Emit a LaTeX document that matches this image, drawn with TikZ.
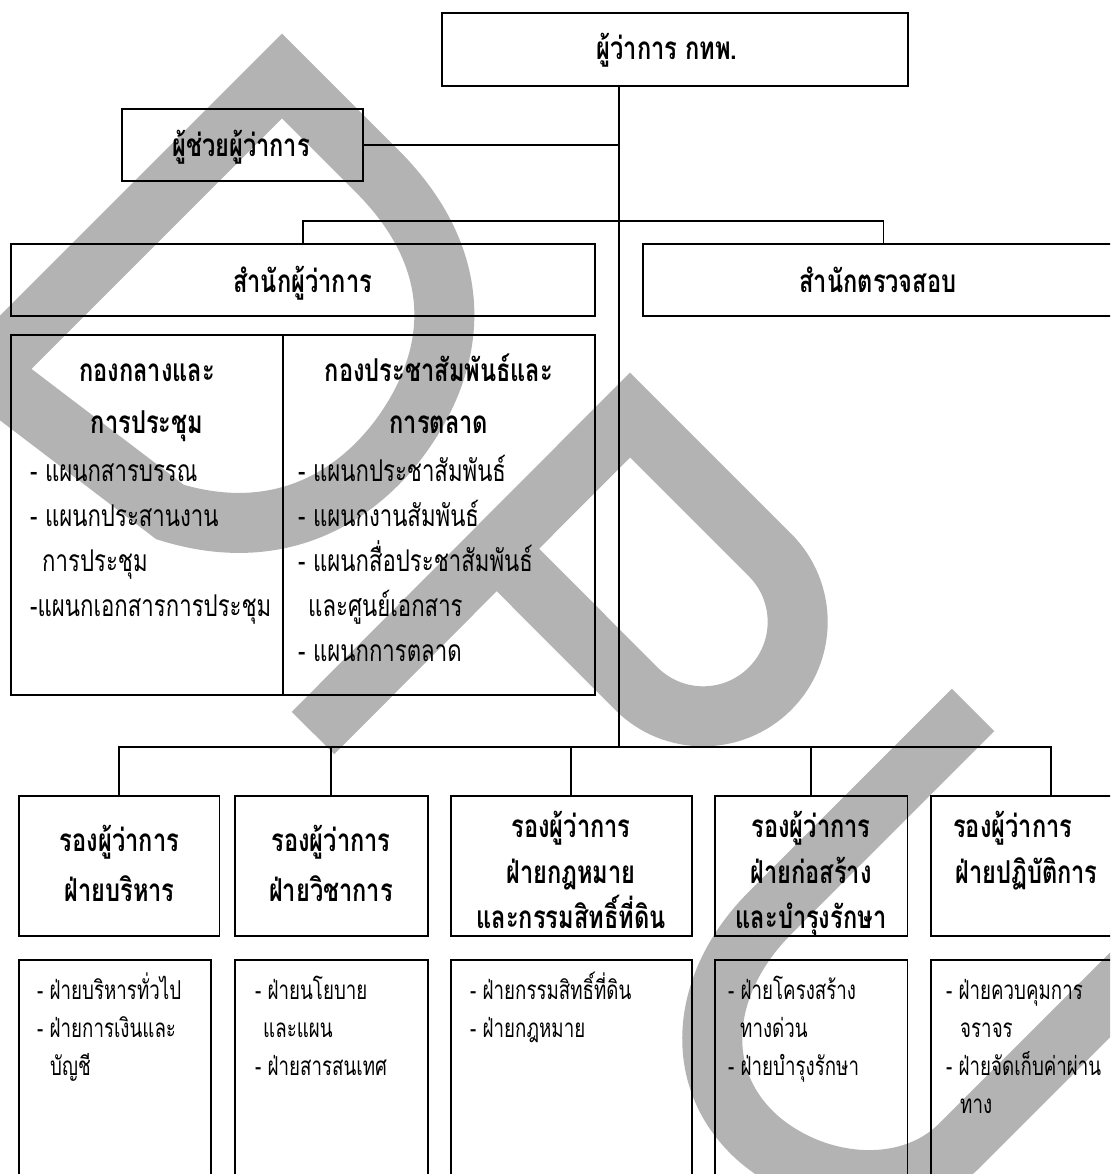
\documentclass[tikz,border=0pt]{standalone}
\usepackage{fontspec}
\newfontfamily\thaiH[Script=Thai,FakeStretch=0.75]{Loma}
\newfontfamily\thaiL[Script=Thai,FakeStretch=0.74]{Loma}
\newfontfamily\thaiS[Script=Thai,FakeStretch=0.72]{Loma}
\definecolor{wm}{RGB}{179,179,179}
\tikzset{
  box/.style={draw=black, line width=1.8pt, inner sep=0pt},
  ln/.style={draw=black, line width=1.8pt},
  hd/.style={anchor=base, inner sep=0pt, font=\thaiH\bfseries\fontsize{31.5}{31.5}\selectfont},
  hdl/.style={anchor=base west, inner sep=0pt, font=\thaiH\bfseries\fontsize{31.5}{31.5}\selectfont},
  li/.style={anchor=base west, inner sep=0pt, font=\thaiL\fontsize{30}{30}\selectfont},
  lis/.style={anchor=base west, inner sep=0pt, font=\thaiS\fontsize{26}{26}\selectfont},
  wmark/.style={draw=wm, line width=60pt, line join=miter, miter limit=10, line cap=butt}
}
\begin{document}
\begin{tikzpicture}[x=1pt,y=-1pt]
\useasboundingbox (0,0) rectangle (1110,1174);
\clip (0,0) rectangle (1110,1174);
\fill[white] (0,0) rectangle (1110,1174);
% watermark
\draw[wmark] (-14,372) -- (282,76) -- (377,171) .. controls (447,241) and (462,320) .. (424,398) .. controls (386,475) and (300,552) .. (170,512) -- cycle;
\draw[wmark] (313,733) -- (630,415) -- (770,555) arc[start angle=-45, end angle=135, radius=94.5] -- (496,548);
\draw[wmark] (973,710) -- (770,913) .. controls (700,983) and (690,1080) .. (760,1140) .. controls (820,1190) and (910,1195) .. (960,1145) -- (1160,945);
% boxes
\node[box, minimum width=466, minimum height=73] (top) at (675,49.5) {};
\node[box, minimum width=241, minimum height=72] (asst) at (242.5,145) {};
\node[box, minimum width=584, minimum height=72] (office) at (302.6,280) {};
\node[box, minimum width=481, minimum height=72] (audit) at (883.5,280) {};
\node[box, minimum width=272.4, minimum height=360] (gl) at (146.8,515) {};
\node[box, minimum width=311.6, minimum height=360] (gr) at (438.8,515) {};
\node[box, minimum width=200.5, minimum height=140] (d1) at (119.25,866) {};
\node[box, minimum width=192.6, minimum height=140] (d2) at (331.3,866) {};
\node[box, minimum width=240.6, minimum height=140] (d3) at (571.3,866) {};
\node[box, minimum width=192.5, minimum height=140] (d4) at (811.25,866) {};
\node[box, minimum width=240, minimum height=140] (d5) at (1051,866) {};
\node[box, minimum width=192, minimum height=240] (s1) at (115,1080) {};
\node[box, minimum width=192.6, minimum height=240] (s2) at (331.3,1080) {};
\node[box, minimum width=240.6, minimum height=240] (s3) at (571.3,1080) {};
\node[box, minimum width=192.5, minimum height=240] (s4) at (811.25,1080) {};
\node[box, minimum width=240, minimum height=240] (s5) at (1051,1080) {};
% connectors
\coordinate (j1) at (619,747);
\coordinate (bus1) at (619,221);
\draw[ln] (top.south -| j1) -- (j1);
\draw[ln] (asst.east) -- (asst.east -| j1);
\draw[ln] (office.north) |- (bus1) -| (audit.north);
\draw[ln] (d1.north) |- (j1) -| (d5.north);
\draw[ln] (d2.north) -- (d2.north |- j1);
\draw[ln] (d3.north) -- (d3.north |- j1);
\draw[ln] (d4.north) -- (d4.north |- j1);
% headings
\node[hd] (ttop) at (667,60) {ผู้ว่าการ กทพ.};
\node[hd] (tasst) at (241,157) {ผู้ช่วยผู้ว่าการ};
\node[hd] (toff) at (302.6,292) {สำนักผู้ว่าการ};
\node[hd] (taud) at (878,292) {สำนักตรวจสอบ};
\node[hd] (tgl1) at (147,381) {กองกลางและ};
\node[hd] (tgl2) at (147,433) {การประชุม};
\node[hd] (tgr1) at (439,381) {กองประชาสัมพันธ์และ};
\node[hd] (tgr2) at (439,433) {การตลาด};
\node[hd] (td1a) at (119.5,851) {รองผู้ว่าการ};
\node[hd] (td1b) at (119.5,901) {ฝ่ายบริหาร};
\node[hd] (td2a) at (331,851) {รองผู้ว่าการ};
\node[hd] (td2b) at (331,901) {ฝ่ายวิชาการ};
\node[hd] (td3a) at (571,837) {รองผู้ว่าการ};
\node[hd] (td3b) at (571,883) {ฝ่ายกฎหมาย};
\node[hd] (td3c) at (571,928) {และกรรมสิทธิ์ที่ดิน};
\node[hd] (td4a) at (811,837) {รองผู้ว่าการ};
\node[hd] (td4b) at (811,883) {ฝ่ายก่อสร้าง};
\node[hd] (td4c) at (811,928) {และบำรุงรักษา};
\node[hdl] (td5a) at (953,837) {รองผู้ว่าการ};
\node[hdl] (td5b) at (955,883) {ฝ่ายปฏิบัติการ};
% lists in big box
\node[li] (l1) at (30,481) {- แผนกสารบรรณ};
\node[li] (l2) at (30,526) {- แผนกประสานงาน};
\node[li] (l3) at (42,571) {การประชุม};
\node[li] (l4) at (30,616) {-แผนกเอกสารการประชุม};
\node[li] (r1) at (298,481) {- แผนกประชาสัมพันธ์};
\node[li] (r2) at (298,526) {- แผนกงานสัมพันธ์};
\node[li] (r3) at (298,571) {- แผนกสื่อประชาสัมพันธ์};
\node[li] (r4) at (308,616) {และศูนย์เอกสาร};
\node[li] (r5) at (298,661) {- แผนกการตลาด};
% bottom lists
\node[lis] (a1) at (37,999) {- ฝ่ายบริหารทั่วไป};
\node[lis] (a2) at (37,1037) {- ฝ่ายการเงินและ};
\node[lis] (a3) at (50,1075) {บัญชี};
\node[lis] (b1) at (255,999) {- ฝ่ายนโยบาย};
\node[lis] (b2) at (263,1037) {และแผน};
\node[lis] (b3) at (255,1075) {- ฝ่ายสารสนเทศ};
\node[lis] (c1) at (470,999) {- ฝ่ายกรรมสิทธิ์ที่ดิน};
\node[lis] (c2) at (470,1037) {- ฝ่ายกฎหมาย};
\node[lis] (e1) at (728,999) {- ฝ่ายโครงสร้าง};
\node[lis] (e2) at (740,1037) {ทางด่วน};
\node[lis] (e3) at (728,1075) {- ฝ่ายบำรุงรักษา};
\node[lis] (f1) at (946,999) {- ฝ่ายควบคุมการ};
\node[lis] (f2) at (960,1037) {จราจร};
\node[lis] (f3) at (946,1075) {- ฝ่ายจัดเก็บค่าผ่าน};
\node[lis] (f4) at (960,1113) {ทาง};
\end{tikzpicture}
\end{document}
